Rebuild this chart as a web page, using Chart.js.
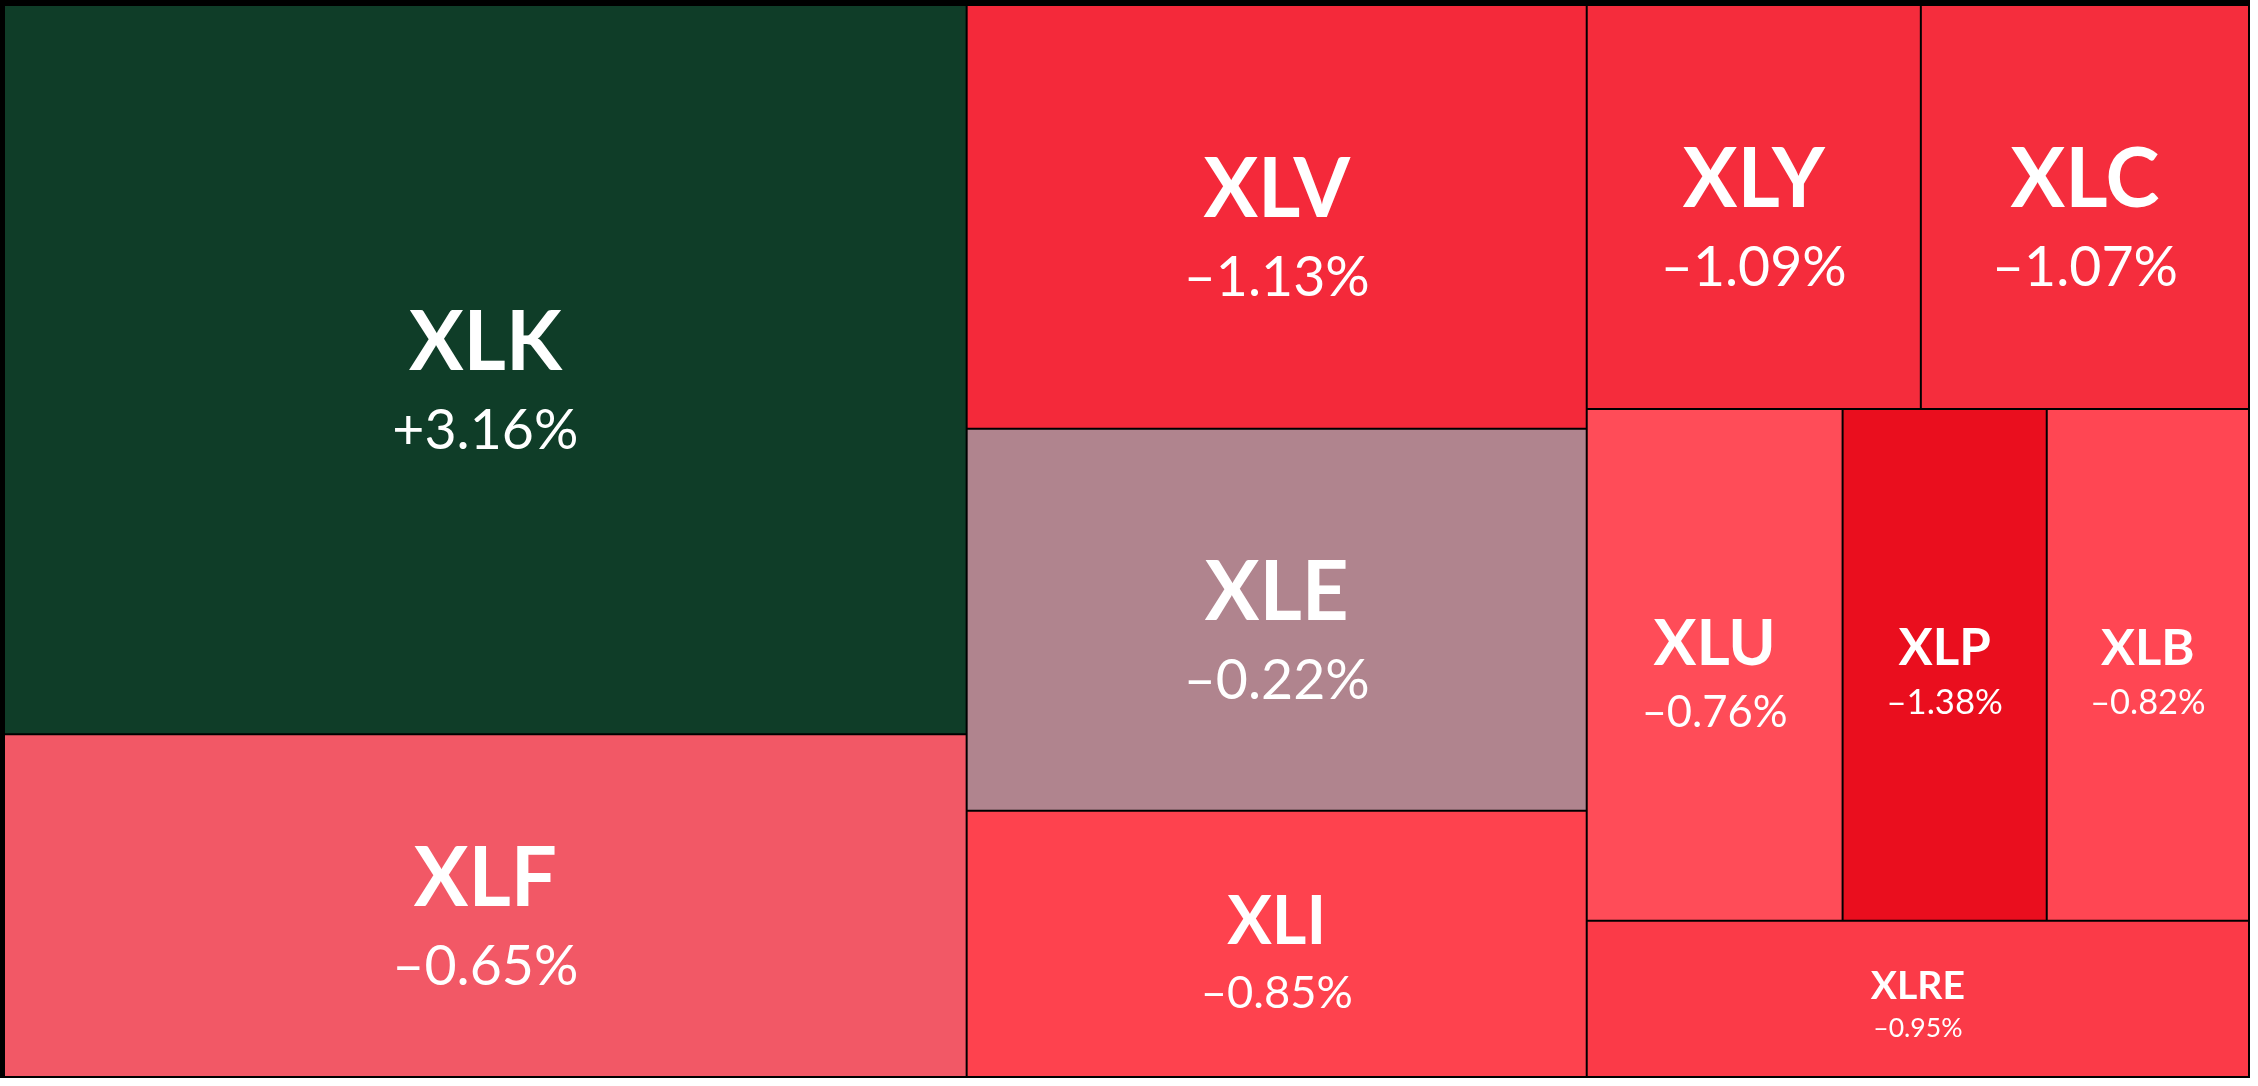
<!DOCTYPE html>
<html>
<head>
<meta charset="utf-8">
<script src="https://cdn.jsdelivr.net/npm/chart.js@4/dist/chart.umd.min.js"></script>
<style>
  html, body { margin: 0; padding: 0; background: #ffffff; }
  #wrap { width: 2258px; height: 1086px; position: relative; }
</style>
</head>
<body>
<div id="wrap"><canvas id="c"></canvas></div>
<script>
// ---- data ----
const tickers = ['XLK', 'XLF', 'XLV', 'XLE', 'XLI', 'XLY', 'XLC', 'XLU', 'XLP', 'XLB', 'XLRE'];
const weights = [29.17, 13.71, 10.92, 9.84, 6.86, 5.61, 5.51, 5.44, 4.34, 4.30, 4.30];
const changes = [3.16, -0.65, -1.13, -0.22, -0.85, -1.09, -1.07, -0.76, -1.38, -0.82, -0.95];
const cellColors = ['#0F3D28', '#F25866', '#F4293A', '#B0848E', '#FE424E', '#F52C3C', '#F52D3D', '#FF4C58', '#EA0E1E', '#FF4653', '#FB3A48'];

// ---- squarified layout (golden ratio, d3 style) ----
const PHI = (1 + Math.sqrt(5)) / 2;
function squarify(values, x0, y0, x1, y1) {
  const n = values.length;
  const out = new Array(n);
  let value = values.reduce((a, b) => a + b, 0);
  let i0 = 0, i1 = 0;
  while (i0 < n) {
    const dx = x1 - x0, dy = y1 - y0;
    let sumValue = values[i1++];
    let minValue = sumValue, maxValue = sumValue;
    const alpha = Math.max(dy / dx, dx / dy) / (value * PHI);
    let beta = sumValue * sumValue * alpha;
    let minRatio = Math.max(maxValue / beta, beta / minValue);
    for (; i1 < n; ++i1) {
      const v = values[i1];
      sumValue += v;
      if (v < minValue) minValue = v;
      if (v > maxValue) maxValue = v;
      beta = sumValue * sumValue * alpha;
      const newRatio = Math.max(maxValue / beta, beta / minValue);
      if (newRatio > minRatio) { sumValue -= v; break; }
      minRatio = newRatio;
    }
    if (dx < dy) {
      const ny = (i1 >= n) ? y1 : y0 + dy * sumValue / value;
      let x = x0; const k = dx / sumValue;
      for (let i = i0; i < i1; i++) {
        const w = values[i] * k;
        out[i] = { x0: x, x1: x + w, y0: y0, y1: ny };
        x += w;
      }
      y0 = ny;
    } else {
      const nx = (i1 >= n) ? x1 : x0 + dx * sumValue / value;
      let y = y0; const k = dy / sumValue;
      for (let i = i0; i < i1; i++) {
        const h = values[i] * k;
        out[i] = { x0: x0, x1: nx, y0: y, y1: y + h };
        y += h;
      }
      x0 = nx;
    }
    value -= sumValue;
    i0 = i1;
  }
  return out;
}

function fmtChange(v) {
  return (v >= 0 ? '+' : '\u2013') + Math.abs(v).toFixed(2) + '%';
}

// ---- custom controller: cells are Chart.js BarElements positioned via scales ----
class TreemapLiteController extends Chart.DatasetController {
  parse(start, count) {
    const meta = this._cachedMeta;
    const data = this.getDataset().data;
    for (let i = start; i < start + count; i++) {
      meta._parsed[i] = { x: i, y: +data[i] };
    }
  }
  getMinMax(scale) {
    return { min: scale.options.min, max: scale.options.max };
  }
  update(mode) {
    const meta = this._cachedMeta;
    this.updateElements(meta.data, 0, meta.data.length, mode);
  }
  updateElements(rects, start, count, mode) {
    const meta = this._cachedMeta;
    const xs = meta.xScale, ys = meta.yScale;
    const values = this.getDataset().data.map(Number);
    const ax = xs.getPixelForValue(xs.min), bx = xs.getPixelForValue(xs.max);
    const ay = ys.getPixelForValue(ys.min), by = ys.getPixelForValue(ys.max);
    const left = Math.min(ax, bx), right = Math.max(ax, bx);
    const top = Math.min(ay, by), bottom = Math.max(ay, by);
    const layout = squarify(values, left, top, right, bottom);
    for (let i = start; i < start + count; i++) {
      const r = layout[i];
      const props = {
        x: (r.x0 + r.x1) / 2,
        y: r.y0,
        base: r.y1,
        width: r.x1 - r.x0,
        height: r.y1 - r.y0,
        horizontal: false,
        inflateAmount: 0,
        borderSkipped: { top: false, bottom: false, left: false, right: false },
        options: this.resolveDataElementOptions(i, mode)
      };
      this.updateElement(rects[i], i, props, mode);
    }
  }
  draw() {
    super.draw();
    const ctx = this._ctx;
    const meta = this._cachedMeta;
    const labels = this.chart.data.labels;
    const chg = this.getDataset().changes;
    ctx.save();
    ctx.fillStyle = '#ffffff';
    ctx.textAlign = 'center';
    ctx.textBaseline = 'alphabetic';
    meta.data.forEach((el, i) => {
      const p = el.getProps(['x', 'y', 'base', 'width']);
      const h = p.base - p.y;
      const cy = (p.y + p.base) / 2;
      const fs = Math.min(0.25 * Math.min(p.width, h), 81.5);
      const fs2 = fs * 0.68;
      ctx.font = '700 ' + fs.toFixed(1) + 'px Lato';
      ctx.fillText(labels[i], p.x, cy);
      ctx.font = '400 ' + fs2.toFixed(1) + 'px Lato';
      ctx.fillText(fmtChange(chg[i]), p.x, cy + 0.97 * fs);
    });
    ctx.restore();
  }
}
TreemapLiteController.id = 'treemapLite';
TreemapLiteController.defaults = { datasetElementType: false, dataElementType: 'bar' };
Chart.register(TreemapLiteController);

const blackBackdrop = {
  id: 'blackBackdrop',
  beforeDatasetsDraw(chart) {
    const { ctx, chartArea } = chart;
    ctx.save();
    ctx.fillStyle = '#000000';
    ctx.fillRect(0, 0, chartArea.right + 1, chartArea.bottom + 1);
    ctx.restore();
  }
};

new Chart(document.getElementById('c'), {
  type: 'treemapLite',
  data: {
    labels: tickers,
    datasets: [{
      data: weights,
      changes: changes,
      backgroundColor: cellColors,
      borderColor: '#000000',
      borderWidth: 1
    }]
  },
  options: {
    responsive: true,
    maintainAspectRatio: false,
    animation: false,
    events: [],
    layout: { padding: { left: 4, top: 5, right: 9, bottom: 9 } },
    scales: {
      x: { type: 'linear', min: 0, max: 1, display: false },
      y: { type: 'linear', min: 0, max: 1, reverse: true, display: false }
    },
    plugins: {
      legend: { display: false },
      tooltip: { enabled: false },
      title: { display: false }
    }
  },
  plugins: [blackBackdrop]
});
</script>
</body>
</html>
